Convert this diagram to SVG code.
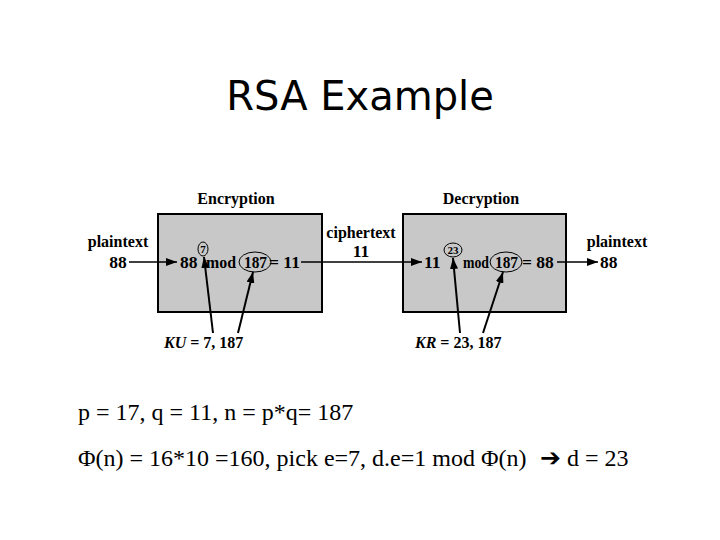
<svg xmlns="http://www.w3.org/2000/svg" width="720" height="540" viewBox="0 0 720 540">
<defs>
<style>
.t{font-family:"Liberation Serif","Times New Roman",serif;font-weight:bold;font-size:16px;fill:#000}
.f{font-size:17.5px}
.c{text-anchor:middle}
.sup{font-size:11px}
.body{font-family:"Liberation Serif","Times New Roman",serif;font-size:24px;fill:#000}
.box{fill:#c8c8c8;stroke:#000;stroke-width:2}
.ln{stroke:#000;stroke-width:1.3;fill:none}
.kl{stroke:#000;stroke-width:2;fill:none}
.el{fill:none;stroke:#000;stroke-width:1}
</style>
<marker id="ah" viewBox="0 0 11 8" refX="11" refY="4" markerWidth="11" markerHeight="8" markerUnits="userSpaceOnUse" orient="auto">
<path d="M0,0 L11,4 L0,8 Z" fill="#000"/>
</marker>
</defs>
<rect width="720" height="540" fill="#fff"/>
<text x="360" y="110" text-anchor="middle" font-family="'DejaVu Sans',sans-serif" font-size="40" fill="#000">RSA Example</text>

<g id="encryption">
<rect class="box" x="158" y="214" width="164" height="98"/>
<text class="t c" x="236" y="204">Encryption</text>
<text class="t f" x="180" y="268">88</text>
<ellipse class="el" cx="203" cy="249" rx="5" ry="7"/>
<text class="t sup c" x="203" y="253">7</text>
<text class="t f" x="206" y="268" textLength="30" lengthAdjust="spacingAndGlyphs">mod</text>
<ellipse class="el" cx="255" cy="262" rx="16" ry="10"/>
<text class="t f" x="244" y="268" textLength="23" lengthAdjust="spacingAndGlyphs">187</text>
<text class="t f" x="269" y="268">= 11</text>
</g>

<g id="decryption">
<rect class="box" x="403" y="214" width="163" height="98"/>
<text class="t c" x="481" y="204">Decryption</text>
<text class="t f" x="424" y="268">11</text>
<ellipse class="el" cx="453" cy="250" rx="9" ry="7"/>
<text class="t sup c" x="453" y="254">23</text>
<text class="t f" x="463" y="268" textLength="26" lengthAdjust="spacingAndGlyphs">mod</text>
<ellipse class="el" cx="506" cy="262" rx="16" ry="10"/>
<text class="t f" x="495" y="268" textLength="23" lengthAdjust="spacingAndGlyphs">187</text>
<text class="t f" x="522" y="268">= 88</text>
</g>

<g id="plaintext-in">
<text class="t c" x="118" y="247">plaintext</text>
<text class="t f c" x="118" y="268">88</text>
</g>
<g id="ciphertext">
<text class="t c" x="361" y="238">ciphertext</text>
<text class="t f c" x="361" y="257">11</text>
</g>
<g id="plaintext-out">
<text class="t c" x="617" y="247">plaintext</text>
<text class="t f" x="600" y="268">88</text>
</g>
<g id="ku">
<text class="t" x="164" y="348" font-size="16.5"><tspan font-style="italic">KU</tspan> = 7, 187</text>
</g>
<g id="kr">
<text class="t" x="415" y="348" font-size="16.5"><tspan font-style="italic">KR</tspan> = 23, 187</text>
</g>

<g id="connectors">
<line class="ln" x1="129" y1="262" x2="177" y2="262" marker-end="url(#ah)"/>
<line class="ln" x1="301" y1="262" x2="422" y2="262" marker-end="url(#ah)"/>
<line class="ln" x1="557" y1="262" x2="598" y2="262" marker-end="url(#ah)"/>
<line class="kl" x1="213" y1="333" x2="204" y2="257" marker-end="url(#ah)"/>
<line class="kl" x1="238" y1="333" x2="253" y2="272" marker-end="url(#ah)"/>
<line class="kl" x1="460" y1="333" x2="453" y2="258" marker-end="url(#ah)"/>
<line class="kl" x1="483" y1="333" x2="503" y2="272" marker-end="url(#ah)"/>
</g>

<g id="notes">
<text class="body" x="78" y="420">p = 17, q = 11, n = p*q= 187</text>
<text class="body" x="78" y="466">Φ(n) = 16*10 =160, pick e=7, d.e=1 mod Φ(n)</text>
<text x="540" y="466" font-family="'DejaVu Sans',sans-serif" font-weight="bold" font-size="25" fill="#000">➔</text>
<text class="body" x="567" y="466">d = 23</text>
</g>
</svg>
